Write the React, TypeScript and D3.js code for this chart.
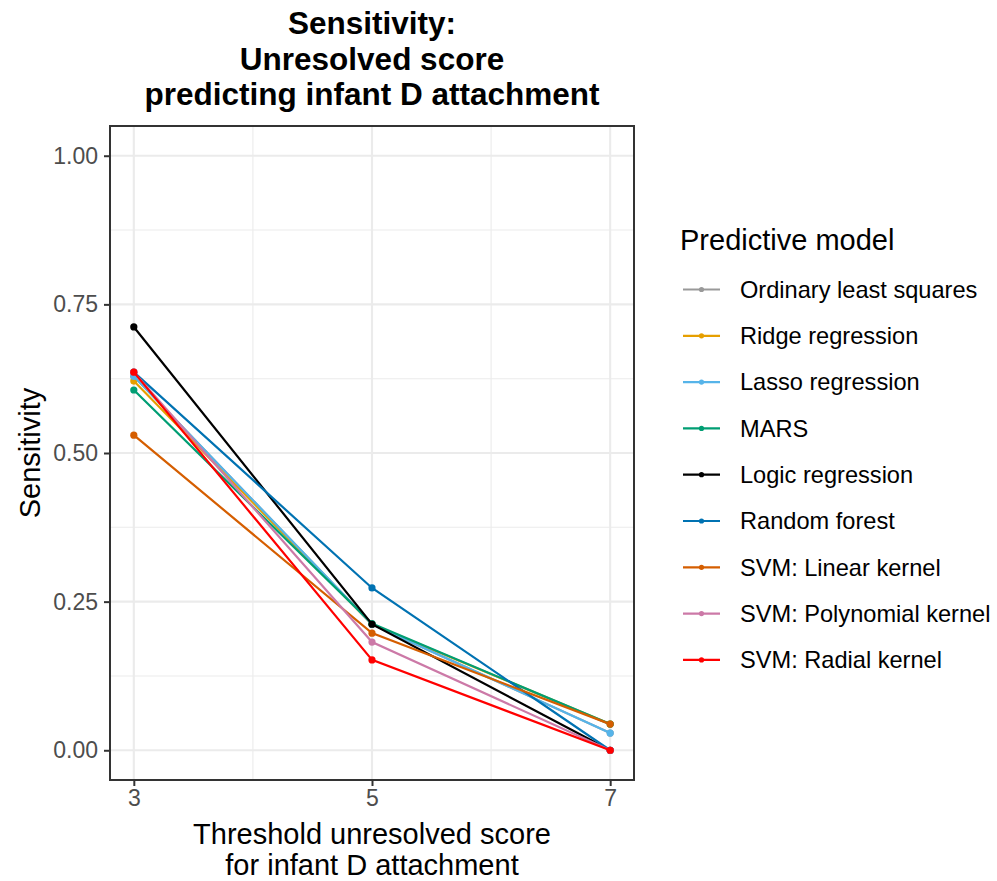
import * as d3 from "d3";
import { useEffect, useRef } from "react";

// thresholds on the x axis
const thresholds = [3, 5, 7];

// model names, in legend / draw order
const models = [
  "Ordinary least squares",
  "Ridge regression",
  "Lasso regression",
  "MARS",
  "Logic regression",
  "Random forest",
  "SVM: Linear kernel",
  "SVM: Polynomial kernel",
  "SVM: Radial kernel",
];

const modelColors = [
  "#999999",
  "#E69F00",
  "#56B4E9",
  "#009E73",
  "#000000",
  "#0072B2",
  "#D55E00",
  "#CC79A7",
  "#FF0000",
];

// sensitivity per model at thresholds 3, 5, 7
const olsValues = [0.629, 0.212, 0.029];
const ridgeValues = [0.621, 0.212, 0.044];
const lassoValues = [0.629, 0.212, 0.029];
const marsValues = [0.606, 0.213, 0.044];
const logicValues = [0.712, 0.212, 0.0];
const forestValues = [0.636, 0.273, 0.0];
const linearValues = [0.53, 0.197, 0.044];
const polyValues = [0.636, 0.182, 0.0];
const radialValues = [0.636, 0.152, 0.0];

const seriesValues = [
  olsValues,
  ridgeValues,
  lassoValues,
  marsValues,
  logicValues,
  forestValues,
  linearValues,
  polyValues,
  radialValues,
];

const yTicks = [0, 0.25, 0.5, 0.75, 1];
const yMinor = [0.125, 0.375, 0.625, 0.875];
const xMinor = [4, 6];

const titleLines = ["Sensitivity:", "Unresolved score", "predicting infant D attachment"];
const xTitleLines = ["Threshold unresolved score", "for infant D attachment"];

const FONT = "'Liberation Sans', Arial, Helvetica, sans-serif";

const App = () => {
  const svgRef = useRef<SVGSVGElement | null>(null);

  useEffect(() => {
    if (!svgRef.current) return;
    const svg = d3.select(svgRef.current);
    svg.selectAll("*").remove();

    // panel box
    const left = 110;
    const right = 634;
    const top = 126;
    const bottom = 780;

    const x = d3.scaleLinear().domain([2.8, 7.2]).range([left, right]);
    const y = d3.scaleLinear().domain([-0.05, 1.05]).range([bottom, top]);

    svg.append("rect").attr("width", 997).attr("height", 881).attr("fill", "white");

    // --- gridlines ---
    const grid = svg.append("g").attr("stroke", "#EBEBEB").attr("fill", "none");
    grid
      .selectAll("line.minor-y")
      .data(yMinor)
      .join("line")
      .attr("class", "minor-y")
      .attr("x1", left)
      .attr("x2", right)
      .attr("y1", (d) => y(d))
      .attr("y2", (d) => y(d))
      .attr("stroke-width", 1.1);
    grid
      .selectAll("line.minor-x")
      .data(xMinor)
      .join("line")
      .attr("class", "minor-x")
      .attr("x1", (d) => x(d))
      .attr("x2", (d) => x(d))
      .attr("y1", top)
      .attr("y2", bottom)
      .attr("stroke-width", 1.1);
    grid
      .selectAll("line.major-y")
      .data(yTicks)
      .join("line")
      .attr("class", "major-y")
      .attr("x1", left)
      .attr("x2", right)
      .attr("y1", (d) => y(d))
      .attr("y2", (d) => y(d))
      .attr("stroke-width", 2.1);
    grid
      .selectAll("line.major-x")
      .data(thresholds)
      .join("line")
      .attr("class", "major-x")
      .attr("x1", (d) => x(d))
      .attr("x2", (d) => x(d))
      .attr("y1", top)
      .attr("y2", bottom)
      .attr("stroke-width", 2.1);

    // --- series ---
    const line = d3
      .line<number>()
      .x((_d, i) => x(thresholds[i]))
      .y((d) => y(d));

    const gSeries = svg.append("g");
    seriesValues.forEach((vals, i) => {
      const g = gSeries.append("g");
      g.append("path")
        .attr("d", line(vals))
        .attr("fill", "none")
        .attr("stroke", modelColors[i])
        .attr("stroke-width", 2.2);
      g.selectAll("circle")
        .data(vals)
        .join("circle")
        .attr("cx", (_d, j) => x(thresholds[j]))
        .attr("cy", (d) => y(d))
        .attr("r", 3.6)
        .attr("fill", modelColors[i]);
    });

    // panel border
    svg
      .append("rect")
      .attr("x", left)
      .attr("y", top)
      .attr("width", right - left)
      .attr("height", bottom - top)
      .attr("fill", "none")
      .attr("stroke", "#333333")
      .attr("stroke-width", 2);

    // --- axes ---
    const yAxis = svg
      .append("g")
      .attr("transform", `translate(${left},0)`)
      .call(
        d3
          .axisLeft(y)
          .tickValues(yTicks)
          .tickFormat(d3.format(".2f"))
          .tickSize(6)
          .tickPadding(6)
      );
    const xAxis = svg
      .append("g")
      .attr("transform", `translate(0,${bottom})`)
      .call(d3.axisBottom(x).tickValues(thresholds).tickFormat(d3.format("d")).tickSize(6).tickPadding(4));

    [yAxis, xAxis].forEach((ax) => {
      ax.select(".domain").remove();
      ax.selectAll(".tick line").attr("stroke", "#333333").attr("stroke-width", 2);
      ax.selectAll(".tick text")
        .attr("fill", "#4D4D4D")
        .style("font-family", FONT)
        .style("font-size", "23px");
    });

    // axis titles
    svg
      .append("text")
      .attr("transform", `translate(40,${(top + bottom) / 2}) rotate(-90)`)
      .attr("text-anchor", "middle")
      .style("font-family", FONT)
      .style("font-size", "29px")
      .text("Sensitivity");

    svg
      .append("g")
      .selectAll("text")
      .data(xTitleLines)
      .join("text")
      .attr("x", (left + right) / 2)
      .attr("y", (_d, i) => 844 + i * 30.5)
      .attr("text-anchor", "middle")
      .style("font-family", FONT)
      .style("font-size", "29px")
      .text((d) => d);

    // chart title
    svg
      .append("g")
      .selectAll("text")
      .data(titleLines)
      .join("text")
      .attr("x", (left + right) / 2)
      .attr("y", (_d, i) => 34 + i * 35.5)
      .attr("text-anchor", "middle")
      .style("font-family", FONT)
      .style("font-size", "31.5px")
      .style("font-weight", "bold")
      .text((d) => d);

    // --- legend ---
    const legend = svg.append("g").attr("transform", "translate(680,0)");
    legend
      .append("text")
      .attr("x", 0)
      .attr("y", 250)
      .style("font-family", FONT)
      .style("font-size", "29px")
      .text("Predictive model");

    const keys = legend
      .selectAll("g.key")
      .data(models)
      .join("g")
      .attr("class", "key")
      .attr("transform", (_d, i) => `translate(0,${289.5 + i * 46.3})`);
    keys
      .append("line")
      .attr("x1", 3)
      .attr("x2", 40)
      .attr("stroke", (_d, i) => modelColors[i])
      .attr("stroke-width", 2.2);
    keys
      .append("circle")
      .attr("cx", 21.5)
      .attr("r", 2.6)
      .attr("fill", (_d, i) => modelColors[i]);
    keys
      .append("text")
      .attr("x", 60)
      .attr("dy", "0.35em")
      .style("font-family", FONT)
      .style("font-size", "23.6px")
      .text((d) => d);
  }, []);

  return (
    <svg
      ref={svgRef}
      width={997}
      height={881}
      style={{ position: "absolute", left: 0, top: 0, display: "block" }}
    />
  );
};

export default App;
